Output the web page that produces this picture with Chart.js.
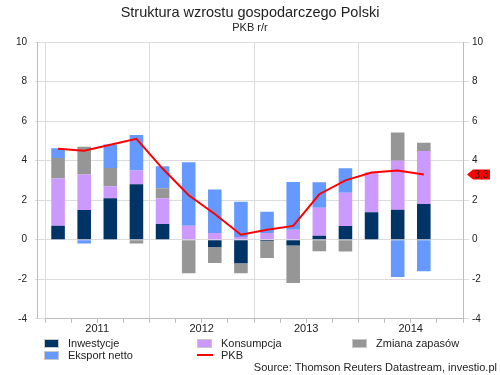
<!DOCTYPE html>
<html>
<head>
<meta charset="utf-8">
<script src="https://cdn.jsdelivr.net/npm/chart.js@4.4.1/dist/chart.umd.min.js"></script>
<style>
  body { margin: 0; background: #fff; font-family: "Liberation Sans", Arial, sans-serif; }
  #wrap { position: relative; width: 500px; height: 375px; }
  #myChart { position: absolute; left: 0; top: 0; }
  .title { position: absolute; left: 0; width: 500px; text-align: center; color: #222; }
  .leg { position: absolute; font-size: 11px; color: #222; height: 12px; line-height: 12px; }
  .leg span.box { position: absolute; left: 0; top: 2px; width: 13px; height: 7px; border: 1px solid #c8c8c8; }
  .leg span.ln { position: absolute; left: 0; top: 5px; width: 16px; height: 2px; }
  .leg span.txt { position: absolute; left: 24px; top: 0; white-space: nowrap; }
  #source { position: absolute; right: 3px; top: 361px; font-size: 11px; color: #222; }
</style>
</head>
<body>
<div id="wrap">
  <canvas id="myChart" width="500" height="375"></canvas>
  <div class="title" style="top:4px;font-size:14.5px;">Struktura wzrostu gospodarczego Polski</div>
  <div class="title" style="top:21px;font-size:11px;">PKB r/r</div>
  <div id="legend"></div>
  <div id="source">Source: Thomson Reuters Datastream, investio.pl</div>
</div>
<script>
// kwartaly 2011 Q1 - 2014 Q4 (ostatni jeszcze pusty)
const quarters = ['2011 Q1', '2011 Q2', '2011 Q3', '2011 Q4',
                  '2012 Q1', '2012 Q2', '2012 Q3', '2012 Q4',
                  '2013 Q1', '2013 Q2', '2013 Q3', '2013 Q4',
                  '2014 Q1', '2014 Q2', '2014 Q3', '2014 Q4'];
const years = ['2011', '2012', '2013', '2014'];

const inwestycje = [0.7, 1.5, 2.1, 2.8, 0.8, 0.0, -0.37, -1.19, -0.07, -0.29, 0.2, 0.69, 1.39, 1.51, 1.81, null];
const konsumpcja = [2.4, 1.8, 0.6, 0.7, 1.3, 0.7, 0.34, 0.14, 0.34, 0.51, 1.42, 1.69, 2.02, 2.49, 2.68, null];
const zapasy = [1.03, 1.4, 0.93, -0.19, 0.5, -1.69, -0.81, -0.51, -0.85, -1.9, -0.58, -0.59, 0.0, 1.42, 0.42, null];
const eksport = [0.5, -0.19, 1.19, 1.8, 1.12, 3.22, 2.2, 1.78, 1.07, 2.41, 1.29, 1.24, 0.0, -1.88, -1.59, null];
const pkb = [4.6, 4.5, 4.8, 5.1, 3.6, 2.25, 1.3, 0.25, 0.5, 0.7, 2.3, 3.0, 3.4, 3.5, 3.3, null];

const yTicks = { min: -4, max: 10, step: 2 };
const lastValue = 3.3;

const gridColor = '#dcdcdc';
const axisColor = '#bdbdbd';

// lewa linia osi (przesunieta od pierwszej linii siatki) + etykieta ostatniej wartosci
const extrasPlugin = {
  id: 'extras',
  afterDraw(chart) {
    const ctx = chart.ctx;
    const area = chart.chartArea;
    ctx.save();
    ctx.strokeStyle = axisColor;
    ctx.lineWidth = 1;
    ctx.beginPath();
    ctx.moveTo(area.left - 7.5, area.top);
    ctx.lineTo(area.left - 7.5, area.bottom);
    ctx.stroke();

    const y = chart.scales.y2.getPixelForValue(lastValue);
    const x = area.right + 4;
    ctx.fillStyle = '#ff0000';
    ctx.beginPath();
    ctx.moveTo(x, y);
    ctx.lineTo(x + 6, y - 5);
    ctx.lineTo(x + 23, y - 5);
    ctx.lineTo(x + 23, y + 5);
    ctx.lineTo(x + 6, y + 5);
    ctx.closePath();
    ctx.fill();
    ctx.fillStyle = '#222';
    ctx.font = '10px "Liberation Sans", Arial, sans-serif';
    ctx.textAlign = 'center';
    ctx.textBaseline = 'middle';
    ctx.fillText(lastValue.toFixed(1).replace('.', ','), x + 14.5, y + 0.5);
    ctx.restore();
  }
};

function barSet(label, data, color) {
  return {
    type: 'bar',
    label: label,
    data: data,
    backgroundColor: color,
    borderWidth: 0,
    yAxisID: 'y',
    categoryPercentage: 1.0,
    barPercentage: 0.52,
    order: 2
  };
}

function initChart(canvas) {
  const tickFont = { family: '"Liberation Sans", Arial, sans-serif', size: 10 };
  return new Chart(canvas, {
    data: {
      labels: quarters,
      datasets: [
        barSet('Inwestycje', inwestycje, '#003366'),
        barSet('Konsumpcja', konsumpcja, '#cc99ff'),
        barSet('Zmiana zapasów', zapasy, '#969696'),
        barSet('Eksport netto', eksport, '#6699ff'),
        {
          type: 'line',
          label: 'PKB',
          data: pkb,
          borderColor: '#ff0000',
          borderWidth: 2,
          pointRadius: 0,
          tension: 0,
          yAxisID: 'y2',
          order: 1
        }
      ]
    },
    options: {
      responsive: false,
      animation: false,
      layout: { padding: { top: 42, bottom: 39, left: 0, right: 0 } },
      plugins: {
        legend: { display: false },
        title: { display: false },
        tooltip: { enabled: false }
      },
      scales: {
        x: {
          stacked: true,
          grid: {
            color: (c) => (c.index % 4 === 0 ? gridColor : 'rgba(0,0,0,0)'),
            tickColor: axisColor,
            tickLength: 4
          },
          border: { color: axisColor },
          ticks: {
            autoSkip: false,
            maxRotation: 0,
            color: '#222',
            font: { family: '"Liberation Sans", Arial, sans-serif', size: 11 },
            labelOffset: 13,
            padding: 0,
            callback: (v, i) => (i % 4 === 1 ? years[Math.floor(i / 4)] : '')
          }
        },
        y: {
          stacked: true,
          position: 'left',
          min: yTicks.min,
          max: yTicks.max,
          afterFit: (s) => { s.width = 45; },
          grid: { color: gridColor, tickLength: 10 },
          border: { display: false },
          ticks: { stepSize: yTicks.step, color: '#222', font: tickFont, padding: 8 }
        },
        y2: {
          position: 'right',
          min: yTicks.min,
          max: yTicks.max,
          afterFit: (s) => { s.width = 37; },
          grid: { drawOnChartArea: false, color: gridColor, tickLength: 6 },
          border: { color: axisColor },
          ticks: { stepSize: yTicks.step, color: '#222', font: tickFont, padding: 3 }
        }
      }
    },
    plugins: [extrasPlugin]
  });
}

function buildLegend(chart) {
  const legend = document.querySelector('#legend');
  // pozycje kolumn i wierszy legendy
  const cols = [44, 197, 352];
  const rows = [337, 349];
  chart.data.datasets.forEach((ds, i) => {
    const item = document.createElement('div');
    item.className = 'leg';
    item.style.left = cols[i % 3] + 'px';
    item.style.top = rows[Math.floor(i / 3)] + 'px';
    const mark = document.createElement('span');
    if (ds.type === 'line') {
      mark.className = 'ln';
      mark.style.background = ds.borderColor;
    } else {
      mark.className = 'box';
      mark.style.background = ds.backgroundColor;
    }
    const txt = document.createElement('span');
    txt.className = 'txt';
    txt.textContent = ds.label;
    item.appendChild(mark);
    item.appendChild(txt);
    legend.appendChild(item);
  });
}

document.addEventListener('DOMContentLoaded', () => {
  const chart = initChart(document.querySelector('#myChart'));
  buildLegend(chart);
  console.log(chart.chartArea);
});
</script>
</body>
</html>
